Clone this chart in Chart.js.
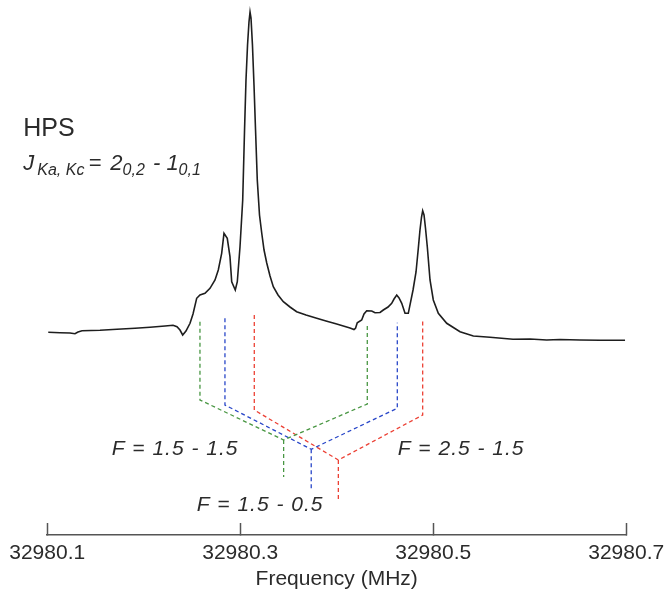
<!DOCTYPE html>
<html>
<head>
<meta charset="utf-8">
<script src="https://cdn.jsdelivr.net/npm/chart.js@4.4.1/dist/chart.umd.min.js"></script>
<style>
  html, body { margin: 0; padding: 0; background: #fff; }
  #wrap { width: 665px; height: 591px; position: relative; }
</style>
</head>
<body>
<div id="wrap"><canvas id="hpsChart"></canvas></div>
<script>
// spectrum: frequency (MHz) and intensity (arb. units)
var freqs = [
  32980.1011, 32980.1133, 32980.1236, 32980.1288, 32980.1319, 32980.1361, 32980.1547, 32980.1723,
  32980.1910, 32980.2065, 32980.2221, 32980.2304, 32980.2345, 32980.2376, 32980.2404, 32980.2438,
  32980.2480, 32980.2511, 32980.2549, 32980.2583, 32980.2635, 32980.2687, 32980.2739, 32980.2773,
  32980.2808, 32980.2832, 32980.2866, 32980.2894, 32980.2912, 32980.2949, 32980.2970, 32980.2998,
  32980.3026, 32980.3045, 32980.3060, 32980.3076, 32980.3091, 32980.3102, 32980.3112, 32980.3127,
  32980.3143, 32980.3159, 32980.3177, 32980.3200, 32980.3223, 32980.3247, 32980.3275, 32980.3309,
  32980.3343, 32980.3392, 32980.3447, 32980.3516, 32980.3585, 32980.3682, 32980.3793, 32980.3889,
  32980.4000, 32980.4086, 32980.4138, 32980.4179, 32980.4195, 32980.4213, 32980.4259, 32980.4283,
  32980.4311, 32980.4363, 32980.4397, 32980.4449, 32980.4483, 32980.4532, 32980.4570, 32980.4594,
  32980.4622, 32980.4646, 32980.4674, 32980.4708, 32980.4742, 32980.4791, 32980.4822, 32980.4846,
  32980.4863, 32980.4879, 32980.4891, 32980.4905, 32980.4920, 32980.4939, 32980.4967, 32980.5001,
  32980.5053, 32980.5140, 32980.5278, 32980.5416, 32980.5589, 32980.5827, 32980.6003, 32980.6176,
  32980.6314, 32980.6521, 32980.6729, 32980.6988
];
var intensity = [
  0.27, 0.23, 0.20, 0.13, 0.30, 0.43, 0.47, 0.57,
  0.67, 0.77, 0.90, 0.97, 0.83, 0.50, 0.00, 0.40,
  1.17, 2.10, 3.67, 4.00, 4.17, 4.67, 5.50, 6.50,
  8.17, 10.17, 9.67, 7.83, 5.33, 4.50, 5.33, 8.83,
  13.50, 20.50, 25.50, 29.00, 31.30, 32.30, 31.70, 29.00,
  25.00, 20.50, 15.50, 12.00, 10.20, 8.50, 7.20, 5.90,
  4.83, 4.00, 3.33, 2.80, 2.33, 2.00, 1.67, 1.40,
  1.10, 0.85, 0.70, 0.55, 0.67, 1.23, 1.50, 2.10,
  2.43, 2.40, 2.23, 2.25, 2.50, 2.80, 3.17, 3.60,
  4.00, 3.70, 3.17, 2.17, 2.17, 4.50, 6.30, 8.70,
  10.50, 11.80, 12.43, 12.00, 10.70, 8.80, 5.50, 3.50,
  2.17, 1.17, 0.33, -0.10, -0.23, -0.43, -0.40, -0.50,
  -0.45, -0.50, -0.53, -0.53
];

// hyperfine trees: [left, right] component frequencies and the centre
var greenFreqs = [32980.2583, 32980.4317], greenCentre = 32980.3450;
var blueFreqs  = [32980.2842, 32980.4628], blueCentre  = 32980.3736;
var redFreqs   = [32980.3146, 32980.4891], redCentre   = 32980.4017;
// y levels: [left top, right top], [left corner, right corner], meet, bottom
var greenTops = [1.33, 1.00], greenCorners = [-6.5, -6.9], greenMeet = -10.5, greenBottom = -14.2;
var blueTops  = [1.67, 1.23], blueCorners  = [-7.0, -7.33], blueMeet = -11.43, blueBottom = -15.4;
var redTops   = [2.00, 1.57], redCorners   = [-7.5, -8.0], redMeet = -12.5, redBottom = -16.7;

var tickVals = [32980.1, 32980.3, 32980.5, 32980.7];
var fLabels = ['F = 1.5 - 1.5', 'F = 1.5 - 0.5', 'F = 2.5 - 1.5'];

function tree(fr, centre, tops, corners, meet, bottom) {
  return [
    {x: fr[0], y: tops[0]}, {x: fr[0], y: corners[0]}, {x: centre, y: meet},
    {x: fr[1], y: corners[1]}, {x: fr[1], y: tops[1]},
    {x: centre, y: null},
    {x: centre, y: meet}, {x: centre, y: bottom}
  ];
}

var spectrum = freqs.map(function(f, i) { return {x: f, y: intensity[i]}; });
var FONT = '"Liberation Sans", Arial, Helvetica, sans-serif';

var annotations = {
  id: 'annotations',
  afterDraw: function(chart) {
    var ctx = chart.ctx, xs = chart.scales.x, ys = chart.scales.y;
    ctx.save();
    ctx.fillStyle = '#2b2b2b';
    ctx.textAlign = 'left';
    ctx.textBaseline = 'alphabetic';

    ctx.font = '25px ' + FONT;
    ctx.fillText('HPS', xs.getPixelForValue(32980.0752), ys.getPixelForValue(19.95));

    // J_{Ka, Kc} = 2_{0,2} - 1_{0,1}
    var px = xs.getPixelForValue(32980.0752), py = ys.getPixelForValue(16.5);
    var big = 'italic 22px ' + FONT, small = 'italic 16px ' + FONT;
    var parts = [['J', big, 0, 3], ['Ka, Kc', small, 5, 4], ['= ', big, 0, 3], ['2', big, 0, 0],
                 ['0,2', small, 5, 2], [' - ', big, 0, 0], ['1', big, 0, 0], ['0,1', small, 5, 0]];
    parts.forEach(function(p) {
      ctx.font = p[1];
      ctx.fillText(p[0], px, py + p[2]);
      px += ctx.measureText(p[0]).width + p[3];
    });

    ctx.font = 'italic 21px ' + FONT;
    ctx.letterSpacing = '1px';
    ctx.fillText(fLabels[0], xs.getPixelForValue(32980.1668), ys.getPixelForValue(-12.0));
    ctx.fillText(fLabels[1], xs.getPixelForValue(32980.2549), ys.getPixelForValue(-17.57));
    ctx.fillText(fLabels[2], xs.getPixelForValue(32980.4632), ys.getPixelForValue(-12.0));
    ctx.restore();
  }
};

function dashed(data, colour) {
  return {
    data: data, borderColor: colour, borderWidth: 1.3, borderDash: [4, 3],
    pointRadius: 0, spanGaps: false, tension: 0, fill: false
  };
}

document.addEventListener("DOMContentLoaded", function() {
  var ctx = document.getElementById('hpsChart').getContext('2d');
  new Chart(ctx, {
    type: 'line',
    data: {
      datasets: [
        {
          label: 'HPS',
          data: spectrum,
          borderColor: '#1e1e1e',
          borderWidth: 1.6,
          pointRadius: 0,
          tension: 0,
          fill: false
        },
        dashed(tree(greenFreqs, greenCentre, greenTops, greenCorners, greenMeet, greenBottom), 'rgb(72,150,66)'),
        dashed(tree(blueFreqs, blueCentre, blueTops, blueCorners, blueMeet, blueBottom), 'rgb(40,70,200)'),
        dashed(tree(redFreqs, redCentre, redTops, redCorners, redMeet, redBottom), 'rgb(236,64,52)')
      ]
    },
    options: {
      responsive: true,
      maintainAspectRatio: false,
      animation: false,
      layout: { padding: { left: 47.2, right: 38.8, top: 5, bottom: 0 } },
      plugins: {
        legend: { display: false },
        tooltip: { enabled: false },
        title: { display: false }
      },
      scales: {
        x: {
          type: 'linear',
          position: 'bottom',
          min: 32980.1,
          max: 32980.7,
          afterBuildTicks: function(scale) {
            scale.ticks = tickVals.map(function(v) { return {value: v}; });
          },
          afterFit: function(scale) {
            // labels hang past the ends; keep the axis at the full width
            scale.paddingLeft = 0;
            scale.paddingRight = 0;
            scale.height = 56;
          },
          ticks: {
            callback: function(v) { return v.toFixed(1); },
            font: { family: FONT, size: 21, lineHeight: 1.05 },
            color: '#2b2b2b',
            padding: 19,
            maxRotation: 0,
            autoSkip: false
          },
          grid: {
            drawOnChartArea: false,
            drawTicks: true,
            tickLength: -12,
            color: '#555',
            tickWidth: 1.5
          },
          border: { display: true, color: '#555', width: 1.5 },
          title: {
            display: true,
            text: 'Frequency (MHz)',
            color: '#2b2b2b',
            font: { family: FONT, size: 21, lineHeight: 1.1 },
            padding: { top: 4, bottom: 0 }
          }
        },
        y: {
          display: false,
          min: -20,
          max: 33
        }
      }
    },
    plugins: [annotations]
  });
});
</script>
</body>
</html>
